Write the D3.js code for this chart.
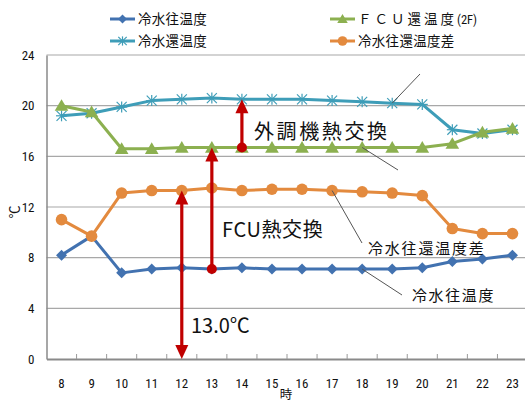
<!DOCTYPE html>
<html><head><meta charset="utf-8">
<script src="https://cdn.jsdelivr.net/npm/d3@7"></script>
<style>
html,body{margin:0;padding:0;background:#fff;}
svg{display:block;}
text{font-family:"Noto Sans CJK JP","Noto Sans",sans-serif;fill:#111;}
.num{font-family:"Liberation Sans Narrow","Roboto Condensed","Liberation Sans",sans-serif;}
</style></head>
<body>
<svg id="c" width="525" height="403"></svg>
<script>
const hours = [8,9,10,11,12,13,14,15,16,17,18,19,20,21,22,23];
const yTicks = [0,4,8,12,16,20,24];
const supplyTemp = [8.2,9.7,6.8,7.1,7.2,7.1,7.2,7.1,7.1,7.1,7.1,7.1,7.2,7.7,7.9,8.2];
const returnTemp = [19.2,19.4,19.9,20.4,20.5,20.6,20.5,20.5,20.5,20.4,20.3,20.2,20.1,18.1,17.8,18.1];
const fcuTemp = [20.0,19.5,16.6,16.6,16.7,16.7,16.7,16.7,16.7,16.7,16.7,16.7,16.7,17.0,17.9,18.2];
const diffTemp = [11.0,9.7,13.1,13.3,13.3,13.5,13.3,13.4,13.4,13.3,13.2,13.1,12.9,10.3,9.9,9.9];
const seriesNames = ["冷水往温度","ＦＣＵ還温度","冷水還温度","冷水往還温度差"];
const fcuSuffix = "(2F)";
const xTitle = "時", yTitle = "℃";
const noteOuter = "外調機熱交換", noteFcu = "FCU熱交換", noteDiff = "13.0℃";

const series = [
  {name:seriesNames[0], values:supplyTemp, color:"#4272B0", marker:"diamond"},
  {name:seriesNames[2], values:returnTemp, color:"#3E9DB8", marker:"star"},
  {name:seriesNames[1], values:fcuTemp, color:"#8CB050", marker:"triangle"},
  {name:seriesNames[3], values:diffTemp, color:"#E38A3E", marker:"circle"}
];

const svg = d3.select("#c");
const x = d3.scaleBand().domain(hours).range([46.5, 527.5]);
const cx = h => x(h) + x.bandwidth()/2;
const y = d3.scaleLinear().domain([0,24]).range([359,55]);

// gridlines
svg.append("g").selectAll("line").data(yTicks.filter(t=>t>0)).join("line")
  .attr("x1",46.5).attr("x2",525).attr("y1",d=>y(d)).attr("y2",d=>y(d))
  .attr("stroke","#a8a8a8").attr("stroke-width",1.2);

// y axis
const yAxis = d3.axisLeft(y).tickValues(yTicks).tickSize(0).tickPadding(12);
const gy = svg.append("g").attr("transform","translate(46.5,0)").call(yAxis);
gy.select(".domain").attr("stroke","#8a8a8a").attr("stroke-width",1.5);
gy.selectAll("text").attr("class","num").attr("font-size",13).attr("fill","#111");

// x axis
const xAxis = d3.axisBottom(x).tickSize(0).tickPadding(20);
const gx = svg.append("g").attr("transform","translate(0,359)").call(xAxis);
gx.select(".domain").attr("stroke","#8a8a8a").attr("stroke-width",1.8);
gx.selectAll("text").attr("class","num").attr("font-size",13).attr("fill","#111");
svg.append("g").selectAll("line").data(hours.slice(1)).join("line")
  .attr("x1",d=>x(d)).attr("x2",d=>x(d)).attr("y1",354).attr("y2",359)
  .attr("stroke","#9a9a9a").attr("stroke-width",1);

svg.append("text").attr("x",286).attr("y",399).attr("font-size",12.5).attr("text-anchor","middle").text(xTitle);
svg.append("text").attr("transform","translate(19,212) rotate(-90)").attr("font-size",13).attr("text-anchor","middle").text(yTitle);

// marker drawing: r = half-size in px
function marker(g, type, color, r){
  if(type==="diamond"){
    g.append("path").attr("d",`M0,${-r} L${r},0 L0,${r} L${-r},0 Z`).attr("fill",color);
  } else if(type==="triangle"){
    g.append("path").attr("d",`M0,${-r} L${r*1.05},${r*0.8} L${-r*1.05},${r*0.8} Z`).attr("fill",color);
  } else if(type==="circle"){
    g.append("circle").attr("r",r).attr("fill",color);
  } else if(type==="star"){
    [[-r,-r,r,r],[-r,r,r,-r],[0,-r*1.1,0,r*1.1],[-r*1.1,0,r*1.1,0]].forEach(l=>{
      g.append("line").attr("x1",l[0]).attr("y1",l[1]).attr("x2",l[2]).attr("y2",l[3])
        .attr("stroke",color).attr("stroke-width",1.2);
    });
  }
}
const mSize = {diamond:5.5, triangle:6.5, circle:5.8, star:5};
const lSize = {diamond:4.5, triangle:5, circle:4.8, star:4.2};

const line = d3.line().x((d,i)=>cx(hours[i])).y(d=>y(d));
series.forEach(s=>{
  svg.append("path").attr("d",line(s.values)).attr("fill","none")
    .attr("stroke",s.color).attr("stroke-width",3).attr("stroke-linejoin","round");
  s.values.forEach((v,i)=>{
    const g = svg.append("g").attr("transform",`translate(${cx(hours[i])},${y(v)})`);
    marker(g, s.marker, s.color, mSize[s.marker]);
  });
});

// leader lines (from data point to label)
const leaders = [
  {h:19, v:returnTemp[11], x2:420, y2:74},
  {h:18, v:fcuTemp[10], x2:398, y2:170},
  {h:17, v:diffTemp[9], x2:362, y2:243},
  {h:18, v:supplyTemp[10], x2:402, y2:295}
];
leaders.forEach(l=>{
  svg.append("line").attr("x1",cx(l.h)).attr("y1",y(l.v)).attr("x2",l.x2).attr("y2",l.y2)
    .attr("stroke","#555").attr("stroke-width",1);
});
svg.append("text").attr("x",368).attr("y",254).attr("font-size",15).attr("letter-spacing",1.8).text(seriesNames[3]);
svg.append("text").attr("x",412).attr("y",301).attr("font-size",15).attr("letter-spacing",1.6).text(seriesNames[0]);

// red arrows
const red = "#C00000";
function arrow(xp, y0, y1, headBoth, dot){
  const hl=14, hw=6.5;
  svg.append("line").attr("x1",xp).attr("x2",xp)
    .attr("y1", headBoth? y0-hl+1 : y0).attr("y2", y1+hl-1)
    .attr("stroke",red).attr("stroke-width",3.2);
  svg.append("path").attr("d",`M${xp},${y1} L${xp-hw},${y1+hl} L${xp+hw},${y1+hl} Z`).attr("fill",red);
  if(headBoth) svg.append("path").attr("d",`M${xp},${y0} L${xp-hw},${y0-hl} L${xp+hw},${y0-hl} Z`).attr("fill",red);
  if(dot) svg.append("circle").attr("cx",xp).attr("cy",y0).attr("r",5).attr("fill",red);
}
arrow(cx(12), y(0), y(diffTemp[4]), true, false);
arrow(cx(13), y(supplyTemp[5]), y(fcuTemp[5]), false, true);
arrow(cx(14), y(fcuTemp[6]), y(returnTemp[6]), false, true);

svg.append("text").attr("x",254).attr("y",139).attr("font-size",20).attr("letter-spacing",2.6).text(noteOuter);
svg.append("text").attr("x",222).attr("y",237).attr("font-size",20).attr("letter-spacing",0.6).text(noteFcu);
svg.append("text").attr("x",191).attr("y",333).attr("font-size",20).text(noteDiff);

// legend
const legend = [
  {s:series[0], lx:110, ly:19, label:seriesNames[0]},
  {s:series[1], lx:110, ly:41, label:seriesNames[2]},
  {s:series[2], lx:330, ly:19, label:seriesNames[1], suffix:fcuSuffix},
  {s:series[3], lx:330, ly:41, label:seriesNames[3]}
];
legend.forEach(l=>{
  svg.append("line").attr("x1",l.lx).attr("x2",l.lx+25).attr("y1",l.ly).attr("y2",l.ly)
    .attr("stroke",l.s.color).attr("stroke-width",3);
  const g = svg.append("g").attr("transform",`translate(${l.lx+12.5},${l.ly})`);
  marker(g, l.s.marker, l.s.color, lSize[l.s.marker]);
  const t = svg.append("text").attr("x",l.lx+28).attr("y",l.ly+5).attr("font-size",13.5).attr("letter-spacing",0.3);
  if(l.suffix){
    t.append("tspan").attr("letter-spacing",3).text(l.label);
    t.append("tspan").attr("class","num").attr("font-size",12.5).attr("letter-spacing",0).text(l.suffix);
  } else t.text(l.label);
});
</script>
</body></html>
